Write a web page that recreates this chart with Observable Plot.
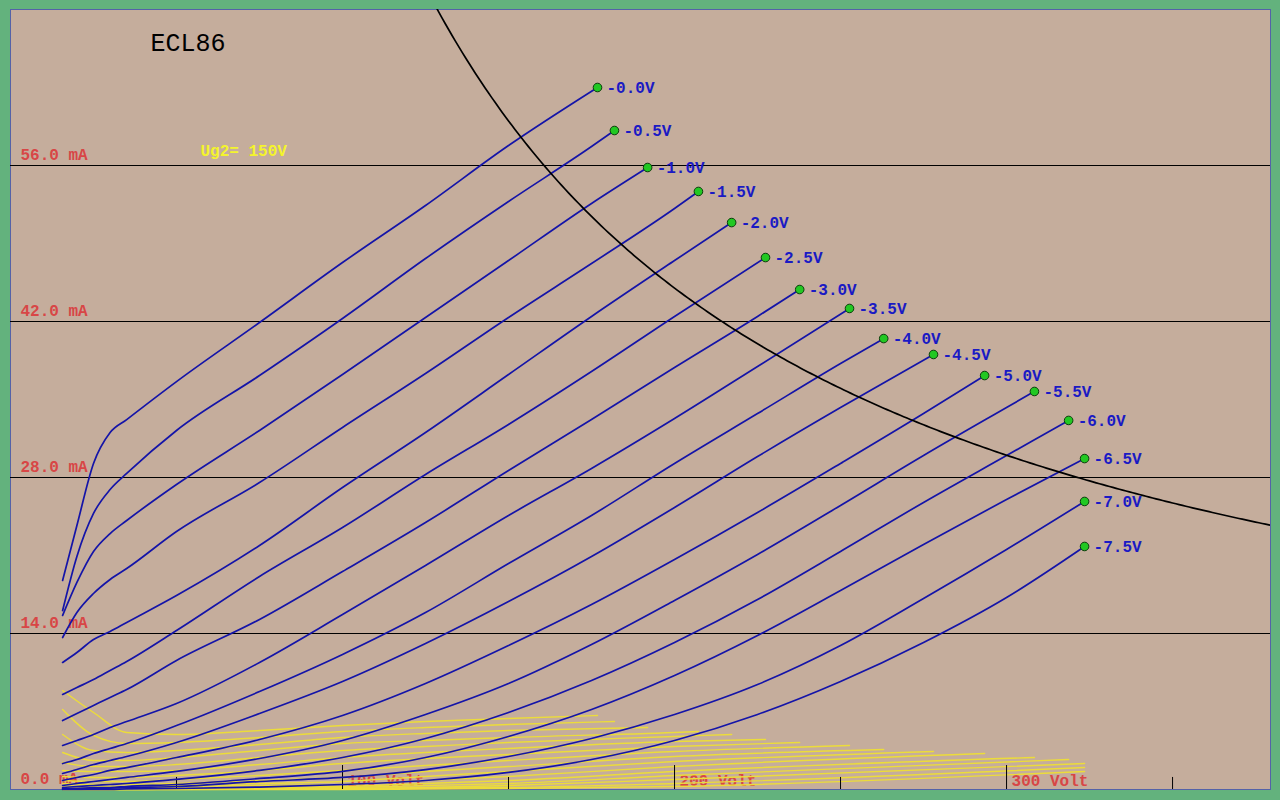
<!DOCTYPE html>
<html><head><meta charset="utf-8">
<script src="https://cdn.jsdelivr.net/npm/d3@7"></script>
<script src="https://cdn.jsdelivr.net/npm/@observablehq/plot@0.6"></script>
<style>
html,body{margin:0;padding:0;background:#63b27d;overflow:hidden;}
#chart{width:1280px;height:800px;}
</style></head><body><div id="chart"></div>
<script>
// ---------------- data ----------------
const tubeName = "ECL86";
const screenNote = "Ug2= 150V";
const gridVoltageLabels = ["-0.0V","-0.5V","-1.0V","-1.5V","-2.0V","-2.5V","-3.0V","-3.5V",
  "-4.0V","-4.5V","-5.0V","-5.5V","-6.0V","-6.5V","-7.0V","-7.5V"];
// anode voltages (V) at which the anode currents are read
const sampleVolts = [15.7, 20, 25, 30, 35, 50, 75, 100, 125, 150, 175, 200, 225, 250, 275, 300];
// last point of every curve (green dot)
const endVolts = [176.8, 181.9, 191.9, 207.2, 217.2, 227.4, 237.7, 252.7, 263.0, 278.0, 293.4, 308.4, 318.7, 323.5, 323.5, 323.5];
const endCurrents = [63.0, 59.14, 55.82, 53.67, 50.88, 47.74, 44.87, 43.17, 40.47, 39.04, 37.15, 35.72, 33.12, 29.70, 25.85, 21.81];
// anode current (mA) per grid voltage
const ia00 = [18.76, 23.69, 29.26, 32.04, 33.20, 36.61, 41.91, 47.29, 52.41, 57.79];
const ia05 = [16.06, 20.91, 24.77, 26.92, 28.36, 32.22, 37.15, 42.27, 47.65, 52.77, 57.70];
const ia10 = [15.62, 18.58, 21.36, 22.97, 24.14, 27.37, 32.22, 37.24, 42.36, 47.47, 52.59];
const ia15 = [13.64, 15.88, 17.59, 18.85, 19.83, 23.15, 27.55, 32.49, 37.33, 42.36, 47.20, 52.14];
const ia20 = [11.40, 12.29, 13.46, 14.18, 14.99, 17.41, 21.90, 27.10, 32.04, 37.24, 42.45, 47.47];
const ia25 = [8.53, 9.15, 9.87, 10.68, 11.49, 14.27, 19.12, 23.51, 28.27, 32.76, 37.51, 42.45];
const ia30 = [6.19, 6.82, 7.54, 8.26, 8.97, 11.58, 15.26, 19.56, 23.96, 28.63, 33.20, 37.87, 42.45];
const ia35 = [3.95, 4.40, 4.94, 5.56, 6.10, 7.72, 11.40, 15.70, 20.10, 24.59, 28.81, 33.29, 37.96];
const ia40 = [2.33, 2.69, 3.23, 3.68, 4.13, 5.74, 8.79, 12.12, 15.88, 20.28, 24.59, 29.26, 33.74, 38.23];
const ia45 = [1.44, 1.79, 2.24, 2.60, 2.96, 4.22, 6.82, 9.69, 13.10, 16.87, 20.91, 25.31, 29.88, 34.28];
const ia50 = [0.81, 1.08, 1.35, 1.71, 1.97, 2.87, 4.49, 6.64, 9.51, 12.92, 16.60, 20.64, 24.86, 29.26, 33.74];
const ia55 = [0.36, 0.54, 0.72, 0.90, 1.08, 1.62, 2.78, 4.40, 6.73, 9.51, 13.01, 16.96, 21.09, 25.49, 29.97, 34.28];
const ia60 = [0.18, 0.27, 0.36, 0.45, 0.54, 0.90, 1.71, 2.87, 4.58, 6.91, 9.78, 13.19, 17.05, 21.36, 25.76, 29.97];
const ia65 = [0.09, 0.09, 0.18, 0.18, 0.27, 0.45, 0.99, 1.62, 2.87, 4.76, 7.18, 10.23, 13.82, 17.86, 21.99, 26.03];
const ia70 = [0.05, 0.09, 0.09, 0.13, 0.18, 0.27, 0.72, 1.08, 1.79, 2.96, 4.58, 6.73, 9.42, 12.92, 17.14, 21.54];
const ia75 = [0, 0, 0, 0, 0.05, 0.09, 0.22, 0.45, 0.81, 1.53, 2.69, 4.40, 6.73, 9.69, 13.19, 17.23];
const anodeCurrents = [ia00, ia05, ia10, ia15, ia20, ia25, ia30, ia35, ia40, ia45, ia50, ia55, ia60, ia65, ia70, ia75];

// screen grid current (mA), yellow curves
const screenSampleVolts = [15.7, 25, 35, 50, 75, 100, 125, 150, 200];
const ig00 = [8.88, 6.91, 5.12, 4.94, 5.29, 5.74, 6.10, 6.37];
const ig05 = [7.18, 4.85, 4.13, 4.22, 4.67, 5.21, 5.56, 5.83];
const ig10 = [4.94, 3.50, 3.32, 3.50, 4.04, 4.67, 5.03, 5.29];
const ig15 = [3.32, 2.60, 2.60, 2.87, 3.50, 4.13, 4.40, 4.67, 5.12];
const ig20 = [2.42, 2.06, 2.06, 2.24, 2.87, 3.50, 3.86, 4.22, 4.76];
const ig25 = [1.71, 1.62, 1.62, 1.71, 2.24, 2.87, 3.32, 3.68, 4.31];
const ig30 = [1.17, 1.08, 1.08, 1.26, 1.71, 2.33, 2.78, 3.14, 3.86];
const ig35 = [0.81, 0.72, 0.72, 0.90, 1.26, 1.71, 2.15, 2.60, 3.41];
const ig40 = [0.54, 0.45, 0.45, 0.54, 0.81, 1.08, 1.62, 2.06, 2.96];
const ig45 = [0.36, 0.27, 0.27, 0.36, 0.54, 0.72, 1.17, 1.62, 2.51];
const ig50 = [0.27, 0.18, 0.18, 0.27, 0.36, 0.45, 0.81, 1.17, 2.06];
const ig55 = [0.18, 0.09, 0.09, 0.18, 0.18, 0.27, 0.54, 0.81, 1.62];
const ig60 = [0.09, 0.09, 0.09, 0.09, 0.13, 0.18, 0.36, 0.54, 1.26];
const ig65 = [0.09, 0, 0, 0.05, 0.09, 0.09, 0.18, 0.36, 0.90];
const ig70 = [0, 0, 0, 0, 0.05, 0.09, 0.13, 0.18, 0.54];
const ig75 = [0, 0, 0, 0, 0, 0, 0.05, 0.09, 0.27];
const screenCurrents = [ig00, ig05, ig10, ig15, ig20, ig25, ig30, ig35, ig40, ig45, ig50, ig55, ig60, ig65, ig70, ig75];
const screenEndCurrents = [6.64, 6.10, 5.56, 5.21, 4.94, 4.49, 4.22, 3.95, 3.59, 3.41, 3.23, 2.87, 2.69, 2.33, 1.97, 1.62];

const gridLinesMA = [14, 28, 42, 56];
const axisLabelsMA = [0, 14, 28, 42, 56];
const majorTicksV = [100, 200, 300];
const minorTicksV = [50, 150, 250, 350];
const maxDissipationW = 9;
const xDomain = [0, 379.5];
const yDomain = [0, 70];

// ---------------- tables ----------------
const anodeRows = gridVoltageLabels.flatMap((g, k) => [
  ...anodeCurrents[k].map((c, j) => ({g, v: sampleVolts[j], ia: c})),
  {g, v: endVolts[k], ia: endCurrents[k]}
]);
const screenRows = gridVoltageLabels.flatMap((g, k) => [
  ...screenCurrents[k].map((c, j) => ({g, v: screenSampleVolts[j], ia: c})),
  {g, v: endVolts[k], ia: screenEndCurrents[k]}
]);
const endRows = gridVoltageLabels.map((g, k) => ({g, v: endVolts[k], ia: endCurrents[k]}));
const hyperbolaRows = d3.range(120, 381, 1).map(v => ({v, ia: maxDissipationW * 1000 / v}));

const mono = "'Courier New', 'Liberation Mono', monospace";
const red = "#d84646";

const chart = Plot.plot({
  width: 1280, height: 800,
  marginLeft: 10, marginRight: 10, marginTop: 9, marginBottom: 11,
  x: {domain: xDomain, axis: null},
  y: {domain: yDomain, axis: null},
  style: {background: "#63b27d", overflow: "visible"},
  marks: [
    Plot.frame({fill: "#c5ad9c", stroke: "#5462a8", strokeWidth: 1}),
    Plot.ruleY(gridLinesMA, {stroke: "#000", strokeWidth: 1}),
    Plot.text(axisLabelsMA, {y: d => d, frameAnchor: "left", lineAnchor: "middle", dx: 10, dy: -11,
      text: d => d.toFixed(1) + " mA", textAnchor: "start", fill: red,
      fontFamily: mono, fontSize: 16, fontWeight: "bold"}),
    Plot.text(majorTicksV, {x: d => d, frameAnchor: "bottom", lineAnchor: "middle", dx: 5, dy: -9,
      text: d => d + " Volt", textAnchor: "start", fill: red,
      fontFamily: mono, fontSize: 16, fontWeight: "bold"}),
    Plot.line(screenRows, {x: "v", y: "ia", z: "g", stroke: "#ecdc3a", strokeWidth: 1.4, curve: "monotone-x"}),
    Plot.ruleX(majorTicksV, {x: d => d, y1: 0, y2: 2.15, stroke: "#000", strokeWidth: 1}),
    Plot.ruleX(minorTicksV, {x: d => d, y1: 0, y2: 1.08, stroke: "#000", strokeWidth: 1}),
    Plot.line(anodeRows, {x: "v", y: "ia", z: "g", stroke: "#1414a8", strokeWidth: 1.7, curve: "monotone-x"}),
    Plot.line(hyperbolaRows, {x: "v", y: "ia", stroke: "#000", strokeWidth: 1.7, clip: true}),
    Plot.dot(endRows, {x: "v", y: "ia", r: 4.3, fill: "#22c822", stroke: "#0b3b0b", strokeWidth: 1}),
    Plot.text(endRows, {x: "v", y: "ia", text: "g", dx: 9, textAnchor: "start",
      fill: "#1a1ac4", fontFamily: mono, fontSize: 16, fontWeight: "bold"}),
    Plot.text([tubeName], {frameAnchor: "top-left", lineAnchor: "middle", dx: 140, dy: 33, textAnchor: "start",
      fill: "#000", fontFamily: mono, fontSize: 25}),
    Plot.text([screenNote], {frameAnchor: "top-left", lineAnchor: "middle", dx: 190, dy: 141, textAnchor: "start",
      fill: "#f4f42c", fontFamily: mono, fontSize: 16, fontWeight: "bold"})
  ]
});
document.getElementById("chart").appendChild(chart);
</script>
</body></html>
